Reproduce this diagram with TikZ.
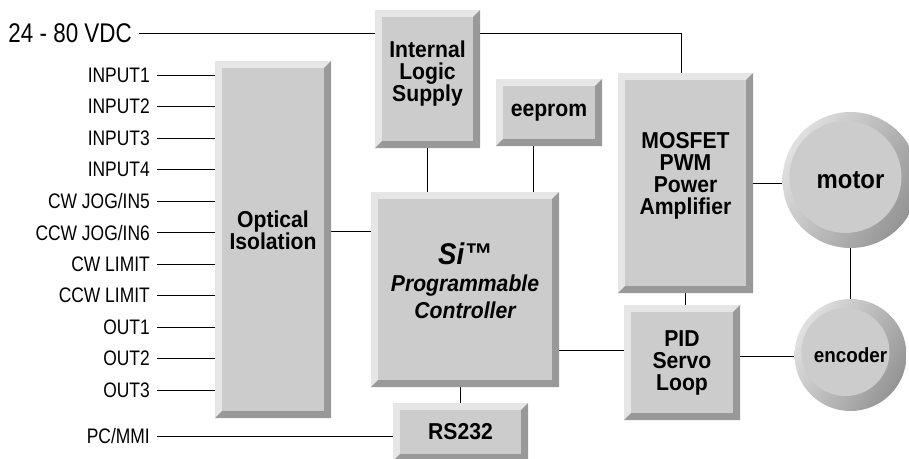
\documentclass[tikz,border=0pt]{standalone}
\usepackage{fontspec}
\setmainfont{Liberation Sans}[FakeStretch=0.83]
\newfontfamily\blockfont{Liberation Sans}[FakeStretch=0.92]
\usetikzlibrary{backgrounds,calc}
\definecolor{BlockFace}{RGB}{204,204,204}
\definecolor{BevelLight}{RGB}{230,230,230}
\definecolor{BevelDark}{RGB}{153,153,153}

\tikzset{
  block/.style={rectangle, inner sep=0pt, align=center,
    font=\blockfont\bfseries\fontsize{23}{22}\selectfont,
    path picture={
      \fill[BevelLight] (path picture bounding box.south west) rectangle (path picture bounding box.north east);
      \fill[BevelDark] (path picture bounding box.north east) -- (path picture bounding box.south east)
        -- (path picture bounding box.south west) -- ([shift={(7pt,7pt)}]path picture bounding box.south west)
        -- ([shift={(-7pt,7pt)}]path picture bounding box.south east)
        -- ([shift={(-7pt,-7pt)}]path picture bounding box.north east) -- cycle;
      \fill[BlockFace] ([shift={(7pt,7pt)}]path picture bounding box.south west)
        rectangle ([shift={(-7pt,-7pt)}]path picture bounding box.north east);
    }},
  boxsize/.style 2 args={minimum width=#1, minimum height=#2},
  lift/.style={text depth=#1},
  disc/.style={circle, inner sep=0pt, minimum size=#1,
    font=\blockfont\bfseries\fontsize{20.5}{22}\selectfont,
    path picture={
      \shade[left color=black!12, right color=black!42, shading angle=60]
        (path picture bounding box.south west) rectangle (path picture bounding box.north east);
      \fill[BlockFace] ([shift={(-5pt,3pt)}]path picture bounding box.center) circle ({#1/2-12pt});
    }},
  sig/.style={anchor=east, inner xsep=7pt, inner ysep=0pt, text depth=0pt,
    font=\fontsize{21}{22}\selectfont},
  wire/.style={line width=1.5pt}
}

\begin{document}
\begin{tikzpicture}[x=1pt, y=-1pt]
  \useasboundingbox (0,0) rectangle (909,458);

  % Function blocks
  \node[block, boxsize={116pt}{357pt}, lift=19pt] (opto) at (273,239.5) {Optical\\Isolation};
  \node[block, boxsize={105pt}{138pt}, lift=15pt] (ils) at (427.5,79) {Internal\\Logic\\Supply};
  \node[block, boxsize={106pt}{67pt}] (eeprom) at (549,112.5) {eeprom};
  \node[block, boxsize={135pt}{220pt}, lift=19pt] (mosfet) at (685.5,183) {MOSFET\\PWM\\Power\\Amplifier};
  \node[block, boxsize={188pt}{195pt}, lift=18pt, font=\blockfont\bfseries\itshape\fontsize{23}{27}\selectfont]
    (ctrl) at (465,289.5) {{\fontsize{30}{27}\selectfont Si™}\\Programmable\\Controller};
  \node[block, boxsize={135pt}{58pt}] (rs232) at (460.5,432) {RS232};
  \node[block, boxsize={116pt}{115pt}] (pid) at (682,362.5) {PID\\Servo\\Loop};

  % Motor and encoder
  \node[disc=136pt, font=\blockfont\bfseries\fontsize{26}{26}\selectfont] (motor) at (850.5,180) {motor};
  \node[disc=112pt] (enc) at (850.5,355) {encoder};

  % Supply and signal labels
  \node[sig, font=\fontsize{27}{27}\selectfont] (vdc) at (139,33) {24 - 80 VDC};
  \foreach \name [count=\i from 0] in {INPUT1,INPUT2,INPUT3,INPUT4,CW JOG/IN5,CCW JOG/IN6,
      CW LIMIT,CCW LIMIT,OUT1,OUT2,OUT3}
    \node[sig] (io\i) at (157,{75+31.5*\i}) {\name};
  \node[sig] (pcmmi) at (157,436) {PC/MMI};

  % Connections
  \begin{scope}[on background layer, wire]
    \coordinate (vin) at ([xshift=-4pt]mosfet.north);
    \draw (vdc.east) -| (vin);
    \foreach \i in {0,...,10}
      \draw (io\i.east) -- (io\i.east -| opto.west);
    \coordinate (oc) at ([yshift=58pt]ctrl.west);
    \draw (oc) -- (oc -| opto.east);
    \draw (ils.south) -- (ils.south |- ctrl.north);
    \coordinate (ee) at ([xshift=-16pt]eeprom.south);
    \draw (ee) -- (ee |- ctrl.north);
    \coordinate (cp) at ([yshift=12pt]pid.west);
    \draw (cp) -- (cp -| ctrl.east);
    \draw (mosfet.south) -- (mosfet.south |- pid.north);
    \draw (mosfet.east) -- (mosfet.east -| motor.west);
    \coordinate (pe) at ([yshift=6pt]pid.east);
    \draw (pe) -- (pe -| enc.west);
    \draw (motor.south) -- (enc.north);
    \draw (rs232.north) -- (rs232.north |- ctrl.south);
    \draw (pcmmi.east) -- (pcmmi.east -| rs232.west);
  \end{scope}
\end{tikzpicture}
\end{document}
